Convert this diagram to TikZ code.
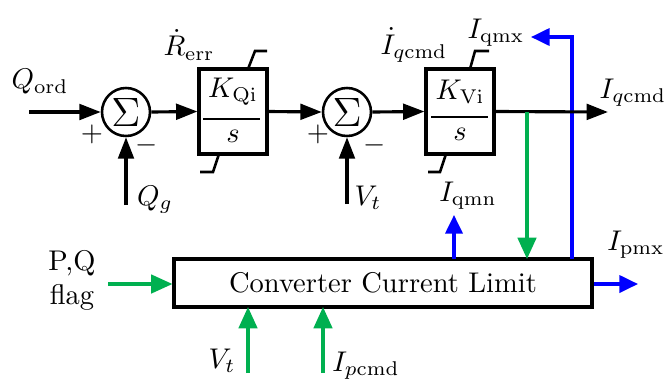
\documentclass[tikz,border=0pt]{standalone}
\usetikzlibrary{arrows.meta}
\definecolor{cgreen}{RGB}{0,176,80}
\definecolor{cblue}{RGB}{0,0,255}
\begin{document}
\begin{tikzpicture}[x=0.351pt,y=-0.351pt, line width=1.1pt,
 sumnode/.style={draw, circle, minimum size={48*0.351pt}, inner sep=0pt, line width=0.9pt},
 intblock/.style={draw, rectangle, minimum width={68*0.351pt}, minimum height={85*0.351pt}, inner sep=0pt},
 cclbox/.style={draw, rectangle, minimum width={418*0.351pt}, minimum height={48*0.351pt}, inner sep=0pt},
 arr/.style={-{Triangle[length=7.5pt,width=5.5pt]}},
 garr/.style={draw=cgreen, -{Triangle[length=7.5pt,width=6.5pt]}, cgreen},
 barr/.style={draw=cblue, -{Triangle[length=6.5pt,width=6pt]}, cblue},
 lbl/.style={inner sep=0pt},
 tab/.style={line width=0.9pt},
]
\useasboundingbox (0,0) rectangle (665,389);
% summing junctions
\node[sumnode] (s1) at (126,112) {\Large$\Sigma$};
\node[sumnode] (s2) at (347,112) {\Large$\Sigma$};
% integrator blocks
\node[intblock] (b1) at (233,111.5) {};
\node[intblock] (b2) at (460,111.5) {};
\node[lbl] (k1) at (233,92) {$K_{\mathrm{Qi}}$};
\node[lbl] (sb1) at (233,136) {$s$};
\node[lbl] (k2) at (460,92) {$K_{\mathrm{Vi}}$};
\node[lbl] (sb2) at (460,134) {$s$};
\draw[line width=0.8pt] (203,119) -- (260,119);
\draw[line width=0.8pt] (431,117) -- (488,117);
% limit tabs
\draw[tab] (248,69) -- (255,51) -- (267,51);
\draw[tab] (219,154) -- (213,172) -- (200,172);
\draw[tab] (470,69) -- (475,51) -- (489,51);
\draw[tab] (446,154) -- (440,172) -- (428,172);
% converter current limit box
\node[cclbox] (ccl) at (383,283) {Converter Current Limit};
% free-end coordinates
\coordinate (qin) at (29,112);
\coordinate (qg) at (126,205);
\coordinate (vt1) at (347,204);
\coordinate (iqout) at (608,112);
\coordinate (tap) at (527,112);
\coordinate (tapb) at (527,259);
\coordinate (bup) at (572,259);
\coordinate (bcorner) at (572,37);
\coordinate (bleft) at (531,37);
\coordinate (qmn) at (454,215);
\coordinate (qmnb) at (454,259);
\coordinate (pmx) at (638,284);
\coordinate (flagin) at (108,284);
\coordinate (vt2) at (248,373);
\coordinate (vt2b) at (248,307);
\coordinate (ip) at (323,373);
\coordinate (ipb) at (323,307);
% black connectors
\draw[arr] (qin) -- (s1.west);
\draw[arr] (s1.east) -- (b1.west);
\draw[arr] (qg) -- (s1.south);
\draw[arr] (b1.east) -- (s2.west);
\draw[arr] (s2.east) -- (b2.west);
\draw[arr] (vt1) -- (s2.south);
% blue
\draw[barr] (bup) -- (bcorner) -- (bleft);
\draw[barr] (qmnb) -- (qmn);
\draw[barr] (ccl.east |- pmx) -- (pmx);
% output
\draw[arr] (b2.east) -- (iqout);
% green
\draw[garr] (tap) -- (tapb);
\draw[garr] (flagin) -- (flagin -| ccl.west);
\draw[garr] (vt2) -- (vt2b);
\draw[garr] (ip) -- (ipb);
% signs
\node[lbl] (p1) at (92,134) {$+$};
\node[lbl] (m1) at (147,145) {$-$};
\node[lbl] (p2) at (318,134) {$+$};
\node[lbl] (m2) at (375,145) {$-$};
% labels
\node[lbl] (lqord) at (40,82) {$Q_{\mathrm{ord}}$};
\node[lbl] (lrerr) at (189,45) {$\dot{R}_{\mathrm{err}}$};
\node[lbl] (lqg) at (155,200) {$Q_g$};
\node[lbl] (lvt1) at (368,198) {$V_t$};
\node[lbl] (liqd) at (414,45) {$\dot{I}_{q\mathrm{cmd}}$};
\node[lbl] (liqmx) at (496,33) {$I_{\mathrm{qmx}}$};
\node[lbl] (liqcmd) at (633,93) {$I_{q\mathrm{cmd}}$};
\node[lbl] (liqmn) at (468,196) {$I_{\mathrm{qmn}}$};
\node[lbl] (lipmx) at (636,245) {$I_{\mathrm{pmx}}$};
\node[lbl, align=center] (lflag) at (72,280) {P,Q\\flag};
\node[lbl] (lvt2) at (222,361) {$V_t$};
\node[lbl] (lip) at (366,366) {$I_{p\mathrm{cmd}}$};
\end{tikzpicture}
\end{document}
